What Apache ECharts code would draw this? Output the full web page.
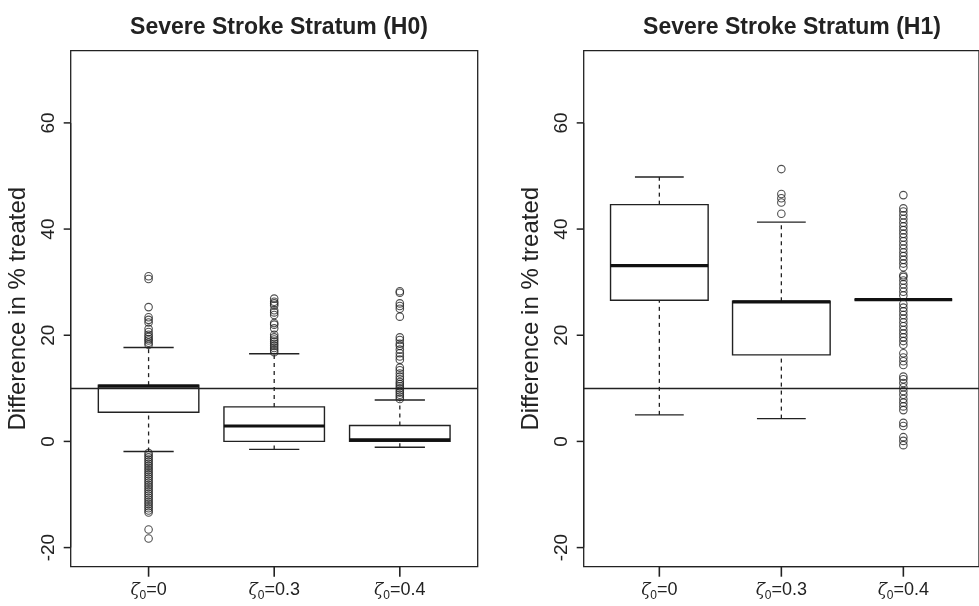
<!DOCTYPE html>
<html><head><meta charset="utf-8">
<script src="https://cdn.jsdelivr.net/npm/echarts@6/dist/echarts.min.js"></script>
<style>html,body{margin:0;padding:0;background:#fff}#c{width:979px;height:606px}</style>
</head><body><div id="c"></div>
<script>
const categories = ['0', '0.3', '0.4'];
const xPositions = [1, 2, 3];
const titles = ['Severe Stroke Stratum (H0)', 'Severe Stroke Stratum (H1)'];
const yTicks = [-20, 0, 20, 40, 60];
const refValue = 10;
// [lower whisker, Q1, median, Q3, upper whisker]
const boxesH0 = [[-1.9, 5.5, 10.4, 10.6, 17.7], [-1.5, 0.0, 2.9, 6.5, 16.5], [-1.1, 0.0, 0.3, 3.0, 7.8]];
const boxesH1 = [[5.0, 26.6, 33.1, 44.6, 49.8], [4.3, 16.3, 26.3, 26.4, 41.3], [26.7, 26.7, 26.7, 26.7, 26.7]];
const outH0_a = [18.2, 18.6, 19.0, 19.3, 19.7, 20.1, 20.6, 21.2, 22.4, 22.9, 23.4, 25.3, 30.6, 31.1,
  -2.2, -2.6, -3.0, -3.4, -3.8, -4.2, -4.6, -5.0, -5.4, -5.8, -6.2, -6.6, -7.0, -7.4, -7.8, -8.2, -8.6,
  -9.0, -9.4, -9.8, -10.2, -10.6, -11.0, -11.4, -11.8, -12.2, -12.6, -13.0, -13.4, -16.6, -18.3];
const outH0_b = [16.8, 17.2, 17.6, 18.0, 18.4, 18.8, 19.2, 19.6, 20.1, 21.3, 22.0, 22.3, 23.8, 24.3, 24.7, 25.6, 26.0, 26.3, 26.9];
const outH0_c = [8.0, 8.4, 8.8, 9.2, 9.6, 10.0, 10.4, 10.8, 11.2, 11.7, 12.2, 12.8, 13.4, 13.9, 15.4, 16.0, 16.6,
  17.3, 18.0, 18.4, 19.1, 19.6, 23.5, 25.0, 25.5, 26.0, 28.0, 28.3];
const outH1_a = [];
const outH1_b = [42.9, 45.0, 45.8, 46.6, 51.3];
const outH1_c = [-0.7, 0.1, 0.8, 2.9, 3.5, 5.9, 6.6, 7.3, 8.0, 8.8, 9.5, 10.2, 11.0, 11.7, 12.2, 14.4, 15.1, 15.8,
  16.6, 18.2, 18.9, 19.6, 20.3, 21.0, 21.7, 22.4, 23.1, 23.8, 24.5, 25.2, 25.9, 27.5, 28.2, 28.9, 29.6, 30.3,
  31.0, 31.3, 32.8, 33.5, 34.2, 34.9, 35.6, 36.3, 37.0, 37.7, 38.4, 39.1, 39.8, 40.5, 41.2, 41.9, 42.6, 43.3,
  43.9, 46.4];

const X_MIN = 0.38, X_MAX = 3.62, Y_MIN = -23.6, Y_MAX = 73.6;
const INK = '#222';
const SANS = "'Liberation Sans', Arial, sans-serif";

function renderBox(params, api) {
  const x = api.value(0);
  const ys = [1, 2, 3, 4, 5].map(i => api.coord([x, api.value(i)])[1]);
  const cx = api.coord([x, 0])[0];
  const hw = api.size([0.4, 0])[0];
  const cw = api.size([0.2, 0])[0];
  return {
    type: 'group', children: [
      { type: 'line', shape: { x1: cx, y1: ys[0], x2: cx, y2: ys[1] }, style: { stroke: INK, lineWidth: 1.3, lineDash: [4, 4] } },
      { type: 'line', shape: { x1: cx, y1: ys[3], x2: cx, y2: ys[4] }, style: { stroke: INK, lineWidth: 1.3, lineDash: [4, 4] } },
      { type: 'line', shape: { x1: cx - cw, y1: ys[0], x2: cx + cw, y2: ys[0] }, style: { stroke: INK, lineWidth: 1.4 } },
      { type: 'line', shape: { x1: cx - cw, y1: ys[4], x2: cx + cw, y2: ys[4] }, style: { stroke: INK, lineWidth: 1.4 } },
      { type: 'rect', shape: { x: cx - hw, y: ys[3], width: 2 * hw, height: ys[1] - ys[3] }, style: { stroke: INK, fill: 'none', lineWidth: 1.4 } },
      { type: 'line', shape: { x1: cx - hw, y1: ys[2], x2: cx + hw, y2: ys[2] }, style: { stroke: '#111', lineWidth: 3.2 } }
    ]
  };
}
// R-style axis: ticks pointing outwards and an axis line running from first to last tick
function renderXAxisTicks(params, api) {
  const p = api.coord([api.value(0), Y_MIN]);
  const children = [{ type: 'line', shape: { x1: p[0], y1: p[1], x2: p[0], y2: p[1] + 10 }, style: { stroke: INK, lineWidth: 1.6 } }];
  if (params.dataIndex === 0) {
    const q = api.coord([xPositions[xPositions.length - 1], Y_MIN]);
    children.push({ type: 'line', shape: { x1: p[0], y1: p[1], x2: q[0], y2: q[1] }, style: { stroke: INK, lineWidth: 1.2 } });
  }
  return { type: 'group', children };
}
function renderYAxisTicks(params, api) {
  const p = api.coord([X_MIN, api.value(1)]);
  const children = [{ type: 'line', shape: { x1: p[0], y1: p[1], x2: p[0] - 7, y2: p[1] }, style: { stroke: INK, lineWidth: 1.5 } }];
  if (params.dataIndex === 0) {
    const q = api.coord([X_MIN, yTicks[yTicks.length - 1]]);
    children.push({ type: 'line', shape: { x1: p[0], y1: p[1], x2: q[0], y2: q[1] }, style: { stroke: INK, lineWidth: 1.2 } });
  }
  return { type: 'group', children };
}

function boxData(boxes) { return boxes.map((b, i) => [xPositions[i]].concat(b)); }
function outData(lists) {
  const d = [];
  lists.forEach((l, i) => l.forEach(v => d.push([xPositions[i], v])));
  return d;
}

const grids = [
  { left: 70.7, right: 501.3, top: 50.7, bottom: 39.3 },
  { left: 583.7, right: -11.7, top: 50.7, bottom: 39.3 }
];

function xAxis(gi) {
  return {
    type: 'value', gridIndex: gi, min: X_MIN, max: X_MAX,
    axisLine: { show: false, onZero: false }, splitLine: { show: false }, axisTick: { show: false },
    axisLabel: {
      show: true, customValues: xPositions, margin: 12,
      formatter: v => '{z|ζ}{s|0}{n|=' + categories[xPositions.indexOf(Math.round(v))] + '}',
      rich: {
        z: { fontSize: 17, fontStyle: 'italic', fontFamily: "'DejaVu Serif', serif", color: INK },
        s: { fontSize: 12, fontFamily: SANS, color: INK, padding: [11, 0, 0, 0] },
        n: { fontSize: 18, fontFamily: SANS, color: INK }
      }
    }
  };
}
function yAxis(gi) {
  return {
    type: 'value', gridIndex: gi, min: Y_MIN, max: Y_MAX,
    axisLine: { show: false, onZero: false }, splitLine: { show: false }, axisTick: { show: false },
    axisLabel: { show: true, customValues: yTicks, rotate: 90, margin: 12, fontSize: 19, fontFamily: SANS, color: INK },
    name: 'Difference in % treated', nameLocation: 'middle', nameRotate: 90, nameGap: 40,
    nameTextStyle: { fontSize: 24, fontFamily: SANS, color: INK }
  };
}

const panels = [
  { boxes: boxesH0, outs: [outH0_a, outH0_b, outH0_c] },
  { boxes: boxesH1, outs: [outH1_a, outH1_b, outH1_c] }
];
const series = [];
panels.forEach((p, gi) => {
  series.push({
    type: 'custom', xAxisIndex: gi, yAxisIndex: gi, renderItem: renderBox, data: boxData(p.boxes),
    encode: { x: 0, y: [1, 2, 3, 4, 5] }, silent: true, z: 3,
    markLine: {
      silent: true, symbol: 'none', label: { show: false },
      lineStyle: { color: INK, width: 1.4, type: 'solid' }, data: [{ yAxis: refValue }]
    }
  });
  series.push({
    type: 'scatter', xAxisIndex: gi, yAxisIndex: gi, data: outData(p.outs), symbol: 'circle', symbolSize: 7.5,
    itemStyle: { color: 'rgba(0,0,0,0)', borderColor: INK, borderWidth: 1.1 }, silent: true, z: 4
  });
  series.push({
    type: 'custom', xAxisIndex: gi, yAxisIndex: gi, renderItem: renderXAxisTicks, clip: false, silent: true, z: 5,
    data: xPositions.map(v => [v, Y_MIN]), encode: { x: 0, y: 1 }
  });
  series.push({
    type: 'custom', xAxisIndex: gi, yAxisIndex: gi, renderItem: renderYAxisTicks, clip: false, silent: true, z: 5,
    data: yTicks.map(v => [X_MIN, v]), encode: { x: 0, y: 1 }
  });
});

const chart = echarts.init(document.getElementById('c'), null, { renderer: 'canvas' });
chart.setOption({
  animation: false,
  backgroundColor: '#fff',
  title: titles.map((t, i) => ({
    text: t, left: i === 0 ? 274 : 787, top: 11, textAlign: 'center',
    textStyle: { fontSize: 23, fontWeight: 'bold', fontFamily: SANS, color: INK }
  })),
  grid: grids.map(g => Object.assign({ show: true, borderColor: INK, borderWidth: 1.3, backgroundColor: 'transparent' }, g)),
  xAxis: [xAxis(0), xAxis(1)],
  yAxis: [yAxis(0), yAxis(1)],
  series: series
});
</script></body></html>
